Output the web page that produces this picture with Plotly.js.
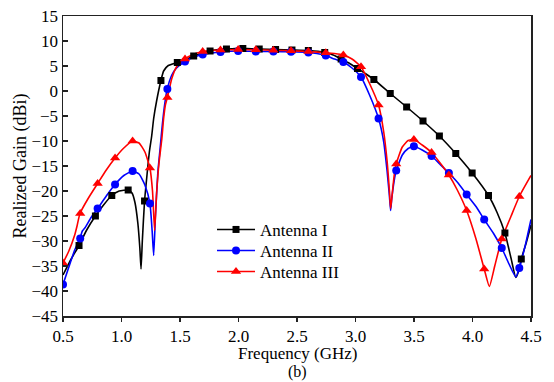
<!DOCTYPE html>
<html>
<head>
<meta charset="utf-8">
<script src="https://cdn.plot.ly/plotly-3.0.1.min.js"></script>
<style>html,body{margin:0;padding:0;background:#fff;}#chart{width:554px;height:382px;}</style>
</head>
<body>
<div id="chart"></div>
<script>
// ---- data (GHz, dBi) ----
const seriesNames = ["Antenna I", "Antenna II", "Antenna III"];

// Antenna I – curve
const ant1X = [0.50,0.57,0.637,0.70,0.777,0.85,0.917,0.98,1.057,1.09,1.115,1.14,1.157,1.167,1.178,1.197,1.215,1.238,1.258,1.275,1.30,1.337,1.36,1.40,1.477,1.55,1.617,1.69,1.757,1.83,1.897,1.97,2.037,2.11,2.177,2.317,2.457,2.597,2.68,2.737,2.81,2.877,2.95,3.017,3.09,3.157,3.297,3.437,3.577,3.717,3.857,3.997,4.137,4.21,4.277,4.33,4.37,4.395,4.417,4.46,4.50];
const ant1Y = [-36.8,-33.6,-30.9,-27.9,-25.0,-22.7,-20.9,-20.0,-19.8,-20.4,-22.3,-26.5,-31.5,-35.6,-30.0,-22.0,-17.5,-12.2,-9.0,-5.5,-2.0,2.1,4.0,5.1,5.7,6.3,7.0,7.6,8.0,8.3,8.4,8.5,8.5,8.45,8.4,8.3,8.2,8.1,7.95,7.7,7.2,6.4,5.5,4.5,3.4,2.3,-0.5,-3.2,-6.0,-9.0,-12.5,-16.4,-20.9,-24.3,-28.4,-33.5,-37.3,-36.0,-33.6,-30.3,-26.8];
// Antenna I – marker points
const ant1MX = [0.637,0.777,0.917,1.057,1.197,1.337,1.477,1.617,1.757,1.897,2.037,2.177,2.317,2.457,2.597,2.737,2.877,3.017,3.157,3.297,3.437,3.577,3.717,3.857,3.997,4.137,4.277,4.417];
const ant1MY = [-30.9,-25.0,-20.9,-19.8,-22.0,2.1,5.7,7.0,8.0,8.4,8.5,8.4,8.3,8.2,8.1,7.7,6.4,4.5,2.3,-0.5,-3.2,-6.0,-9.0,-12.5,-16.4,-20.9,-28.4,-33.6];

// Antenna II – curve
const ant2X = [0.50,0.55,0.60,0.645,0.665,0.69,0.74,0.796,0.87,0.944,1.02,1.096,1.15,1.20,1.243,1.262,1.275,1.29,1.31,1.33,1.35,1.37,1.391,1.43,1.47,1.543,1.62,1.694,1.77,1.846,1.997,2.148,2.298,2.449,2.597,2.67,2.746,2.82,2.896,2.97,3.047,3.12,3.197,3.24,3.27,3.29,3.30,3.31,3.33,3.348,3.40,3.45,3.499,3.57,3.65,3.72,3.798,3.88,3.95,4.03,4.10,4.18,4.25,4.31,4.37,4.40,4.45,4.50];
const ant2Y = [-38.7,-35.2,-31.8,-29.5,-28.0,-27.3,-25.3,-23.5,-21.0,-18.7,-16.9,-16.0,-16.6,-18.8,-22.5,-28.0,-32.9,-25.0,-16.5,-11.5,-6.5,-2.5,0.4,3.2,4.6,5.9,6.8,7.3,7.6,7.8,8.0,7.9,7.9,7.85,7.7,7.5,7.1,6.4,5.8,4.6,2.8,-0.8,-5.5,-10.0,-16.0,-21.0,-23.9,-21.5,-18.0,-15.9,-12.8,-11.5,-11.05,-11.8,-13.0,-14.6,-16.4,-18.5,-20.7,-23.1,-25.7,-28.5,-31.4,-34.5,-37.2,-35.4,-31.0,-25.7];
const ant2MX = [0.5,0.647,0.796,0.945,1.095,1.243,1.392,1.543,1.694,1.846,1.997,2.148,2.298,2.449,2.597,2.746,2.896,3.047,3.197,3.348,3.499,3.65,3.798,3.95,4.10,4.25,4.40];
const ant2MY = [-38.7,-29.5,-23.5,-18.7,-16.0,-22.5,0.4,5.9,7.3,7.8,8.0,7.9,7.9,7.85,7.7,7.1,5.8,2.8,-5.5,-15.9,-11.05,-13.0,-16.4,-20.7,-25.7,-31.4,-35.4];

// Antenna III – curve
const ant3X = [0.50,0.55,0.60,0.62,0.645,0.72,0.796,0.87,0.945,1.02,1.095,1.15,1.20,1.243,1.265,1.283,1.30,1.32,1.345,1.36,1.375,1.392,1.43,1.47,1.543,1.62,1.694,1.77,1.846,1.997,2.148,2.298,2.449,2.597,2.746,2.82,2.896,2.97,3.047,3.12,3.197,3.24,3.27,3.29,3.30,3.31,3.33,3.348,3.40,3.45,3.499,3.57,3.65,3.72,3.798,3.87,3.95,4.03,4.10,4.144,4.19,4.25,4.33,4.40,4.50];
const ant3Y = [-34.4,-32.0,-28.8,-27.0,-24.5,-21.3,-18.5,-15.8,-13.4,-11.4,-10.0,-10.4,-12.2,-15.4,-20.0,-27.9,-20.5,-14.5,-9.5,-5.5,-2.8,-1.3,2.5,4.8,6.4,7.4,7.9,8.1,8.2,8.3,8.25,8.15,8.05,7.9,7.65,7.5,7.2,6.4,4.85,1.5,-2.8,-8.0,-14.0,-20.0,-23.5,-21.5,-17.0,-14.6,-11.2,-9.9,-9.7,-10.8,-12.3,-14.3,-16.8,-19.8,-23.9,-29.6,-35.6,-39.1,-35.0,-29.6,-25.0,-21.1,-16.9];
const ant3MX = [0.5,0.647,0.796,0.945,1.095,1.243,1.392,1.543,1.694,1.846,1.997,2.148,2.298,2.449,2.597,2.746,2.896,3.047,3.197,3.348,3.499,3.65,3.798,3.95,4.10,4.25,4.40];
const ant3MY = [-34.4,-24.5,-18.5,-13.4,-10.0,-15.4,-1.3,6.4,7.9,8.2,8.3,8.25,8.15,8.05,7.9,7.65,7.2,4.85,-2.8,-14.6,-9.7,-12.3,-16.8,-23.9,-35.6,-29.6,-21.1];

const xTicks = [0.5,1.0,1.5,2.0,2.5,3.0,3.5,4.0,4.5];
const yTicks = [15,10,5,0,-5,-10,-15,-20,-25,-30,-35,-40,-45];

// ---- styles ----
const FONT = "Liberation Serif, Times New Roman, serif";
const styles = [
  {color: "#000000", symbol: "square", size: 7},
  {color: "#0000ff", symbol: "circle", size: 8},
  {color: "#ff0000", symbol: "triangle-up", size: 9}
];
const curves = [[ant1X, ant1Y, ant1MX, ant1MY],[ant2X, ant2Y, ant2MX, ant2MY],[ant3X, ant3Y, ant3MX, ant3MY]];
const legendIds = ["legend", "legend2", "legend3"];
const legendY = [0.287, 0.217, 0.147];

const traces = [];
// legend entries (drawn off-range, only used for legend)
seriesNames.forEach((n, i) => {
  traces.push({x: [-10], y: [0], mode: "lines+markers", name: n, legend: legendIds[i],
    line: {color: styles[i].color, width: 1.6},
    marker: {color: styles[i].color, symbol: styles[i].symbol, size: styles[i].size}});
});
curves.forEach((c, i) => {
  traces.push({x: c[0], y: c[1], mode: "lines", showlegend: false,
    line: {color: styles[i].color, width: 1.6, shape: "spline", smoothing: 0.5}, hoverinfo: "skip"});
});
curves.forEach((c, i) => {
  traces.push({x: c[2], y: c[3], mode: "markers", showlegend: false,
    marker: {color: styles[i].color, symbol: styles[i].symbol, size: styles[i].size}});
});

const legendBase = (y) => ({x: 0.3184, y: y, xanchor: "left", yanchor: "middle", bgcolor: "rgba(0,0,0,0)",
  itemwidth: 38, font: {family: FONT, size: 17, color: "#000"}});

const layout = {
  width: 554, height: 382,
  margin: {l: 63, r: 23, t: 16, b: 66},
  paper_bgcolor: "#ffffff", plot_bgcolor: "#ffffff",
  font: {family: FONT, size: 17, color: "#000"},
  showlegend: true,
  legend: legendBase(legendY[0]),
  legend2: legendBase(legendY[1]),
  legend3: legendBase(legendY[2]),
  xaxis: {range: [0.5, 4.5], tickvals: xTicks, ticktext: xTicks.map(v => v.toFixed(1)),
    ticks: "outside", ticklen: 4, tickwidth: 1.5, tickcolor: "#222",
    showline: true, linecolor: "#222", linewidth: 1.5, mirror: true, showgrid: false, zeroline: false,
    tickfont: {family: FONT, size: 17}},
  yaxis: {range: [-45, 15], tickvals: yTicks, ticks: "inside", ticklen: 5, tickwidth: 1.5, tickcolor: "#222",
    showline: true, linecolor: "#222", linewidth: 1.5, mirror: true, showgrid: false, zeroline: false,
    tickfont: {family: FONT, size: 17},
    title: {text: "Realized Gain (dBi)", font: {family: FONT, size: 18}, standoff: 0}},
  annotations: [
    {text: "Frequency (GHz)", xref: "paper", yref: "paper", x: 0.5, y: -0.125, xanchor: "center", yanchor: "middle",
      showarrow: false, font: {family: FONT, size: 17, color: "#000"}},
    {text: "(b)", xref: "paper", yref: "paper", x: 0.5, y: -0.1867, xanchor: "center", yanchor: "middle",
      showarrow: false, font: {family: FONT, size: 16, color: "#000"}}]
};

Plotly.newPlot("chart", traces, layout, {displayModeBar: false, staticPlot: true});
</script>
</body>
</html>
